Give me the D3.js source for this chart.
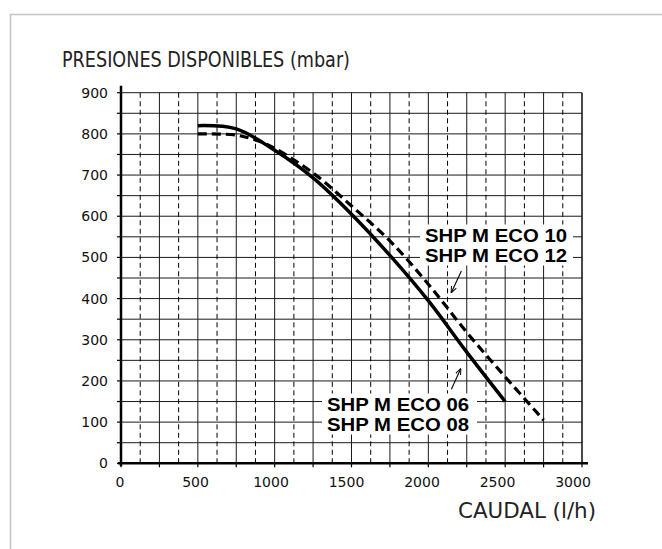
<!DOCTYPE html>
<html>
<head>
<meta charset="utf-8">
<script src="https://cdn.jsdelivr.net/npm/d3@7"></script>
<style>
  body { margin: 0; background: #fff; }
  svg { display: block; }
</style>
</head>
<body>
<div id="chart"></div>
<script>
// values
var caudal06 = [500, 750, 1000, 1250, 1500, 1750, 2000, 2250, 2500];
var presion06 = [820, 812, 760, 693, 605, 505, 395, 270, 150];
var caudal10 = [500, 750, 900, 1000, 1250, 1500, 1750, 2000, 2250, 2500, 2750];
var presion10 = [800, 797, 782, 765, 705, 625, 540, 435, 318, 210, 105];
var xTicks = [0, 500, 1000, 1500, 2000, 2500, 3000];
var yTicks = [0, 100, 200, 300, 400, 500, 600, 700, 800, 900];
var labels10 = ["SHP M ECO 10", "SHP M ECO 12"];
var labels06 = ["SHP M ECO 06", "SHP M ECO 08"];

var width = 662, height = 549;
var svg = d3.select("#chart").append("svg")
  .attr("width", width)
  .attr("height", height);

// grey frame
svg.append("rect")
  .attr("x", 10.5).attr("y", 14.5)
  .attr("width", 700).attr("height", 600)
  .attr("fill", "none")
  .attr("stroke", "#c4c4c4")
  .attr("stroke-width", 1.5);

var x = d3.scaleLinear().domain([0, 3000]).range([121, 582]);
var y = d3.scaleLinear().domain([0, 900]).range([463.3, 92.7]);
var xLab = d3.scaleLinear().domain([0, 3000]).range([120, 573]);

var grid = svg.append("g");

// horizontal grid every 50
grid.selectAll("line.h")
  .data(d3.range(50, 901, 50))
  .enter().append("line")
  .attr("class", "h")
  .attr("x1", x(0)).attr("x2", x(3000))
  .attr("y1", function(d){ return y(d); })
  .attr("y2", function(d){ return y(d); })
  .attr("stroke", "#1a1a1a")
  .attr("stroke-width", 1);

// solid verticals every 250
grid.selectAll("line.v")
  .data(d3.range(250, 3001, 250))
  .enter().append("line")
  .attr("class", "v")
  .attr("x1", function(d){ return x(d); })
  .attr("x2", function(d){ return x(d); })
  .attr("y1", y(0)).attr("y2", y(900))
  .attr("stroke", "#1a1a1a")
  .attr("stroke-width", function(d){ return d === 3000 ? 1.6 : 1; });

// dashed verticals in between
grid.selectAll("line.vd")
  .data(d3.range(125, 3000, 250))
  .enter().append("line")
  .attr("class", "vd")
  .attr("x1", function(d){ return x(d); })
  .attr("x2", function(d){ return x(d); })
  .attr("y1", y(0)).attr("y2", y(900))
  .attr("stroke", "#000")
  .attr("stroke-width", 1)
  .attr("stroke-dasharray", "5,3.5");

// axes
var axisG = svg.append("g");
axisG.append("line")
  .attr("x1", x(0)).attr("x2", x(0))
  .attr("y1", y(0) + 3).attr("y2", y(900) - 7)
  .attr("stroke", "#000").attr("stroke-width", 2.5);
axisG.append("line")
  .attr("x1", x(0) - 3).attr("x2", x(3000) + 6)
  .attr("y1", y(0)).attr("y2", y(0))
  .attr("stroke", "#000").attr("stroke-width", 2.5);

axisG.selectAll("line.yt")
  .data(d3.range(0, 901, 50))
  .enter().append("line")
  .attr("x1", x(0) - 4).attr("x2", x(0))
  .attr("y1", function(d){ return y(d); })
  .attr("y2", function(d){ return y(d); })
  .attr("stroke", "#000").attr("stroke-width", 1.2);

axisG.selectAll("line.xt")
  .data(d3.range(0, 3001, 250))
  .enter().append("line")
  .attr("x1", function(d){ return x(d); })
  .attr("x2", function(d){ return x(d); })
  .attr("y1", y(0)).attr("y2", y(0) + 4)
  .attr("stroke", "#000").attr("stroke-width", 1.2);

axisG.selectAll("text.yl")
  .data(yTicks)
  .enter().append("text")
  .attr("x", 108)
  .attr("y", function(d){ return y(d) + 5; })
  .attr("text-anchor", "end")
  .attr("font-family", "DejaVu Sans")
  .attr("font-size", 14)
  .attr("fill", "#111")
  .text(function(d){ return d; });

axisG.selectAll("text.xl")
  .data(xTicks)
  .enter().append("text")
  .attr("x", function(d){ return xLab(d); })
  .attr("y", 487)
  .attr("text-anchor", "middle")
  .attr("font-family", "DejaVu Sans")
  .attr("font-size", 14)
  .attr("fill", "#111")
  .text(function(d){ return d; });

// titles
svg.append("text")
  .attr("x", 62).attr("y", 67)
  .attr("font-family", "DejaVu Sans Condensed")
  .attr("font-size", 21.5)
  .attr("fill", "#222")
  .attr("textLength", 288)
  .attr("lengthAdjust", "spacingAndGlyphs")
  .text("PRESIONES DISPONIBLES (mbar)");

svg.append("text")
  .attr("x", 458).attr("y", 518)
  .attr("font-family", "DejaVu Sans Condensed")
  .attr("font-size", 21)
  .attr("fill", "#222")
  .attr("textLength", 138)
  .attr("lengthAdjust", "spacingAndGlyphs")
  .text("CAUDAL (l/h)");

// curves
var line = d3.line()
  .x(function(d){ return x(d[0]); })
  .y(function(d){ return y(d[1]); })
  .curve(d3.curveCatmullRom.alpha(0.5));

svg.append("path")
  .datum(d3.zip(caudal10, presion10))
  .attr("d", line)
  .attr("fill", "none")
  .attr("stroke", "#000")
  .attr("stroke-width", 3.2)
  .attr("stroke-dasharray", "9,5");

svg.append("path")
  .datum(d3.zip(caudal06, presion06))
  .attr("d", line)
  .attr("fill", "none")
  .attr("stroke", "#000")
  .attr("stroke-width", 3.5);

// labels with white boxes
function labelBlock(lines, x0, x1, base) {
  var g = svg.append("g");
  g.append("rect")
    .attr("x", x0).attr("y", base - 17)
    .attr("width", x1 - x0).attr("height", 41)
    .attr("fill", "#fff");
  g.selectAll("text")
    .data(lines)
    .enter().append("text")
    .attr("x", x0 + 5)
    .attr("y", function(d, i){ return base + i * 20; })
    .attr("font-family", "Liberation Sans, Arial, sans-serif")
    .attr("font-weight", "bold")
    .attr("font-size", 17.5)
    .attr("fill", "#000")
    .attr("textLength", 142)
    .attr("lengthAdjust", "spacingAndGlyphs")
    .text(function(d){ return d; });
}
labelBlock(labels10, 420, 573, 241.5);
labelBlock(labels06, 322, 477, 410.5);

// arrows
var defs = svg.append("defs");
defs.append("marker")
  .attr("id", "ah")
  .attr("viewBox", "0 0 10 10")
  .attr("refX", 9).attr("refY", 5)
  .attr("markerWidth", 6).attr("markerHeight", 6)
  .attr("orient", "auto")
  .append("path")
  .attr("d", "M0,1 L10,5 L0,9")
  .attr("fill", "none")
  .attr("stroke", "#000")
  .attr("stroke-width", 1.5);

var arrows = [
  { from: [2215, 467], to: [2150, 415] },
  { from: [2150, 180], to: [2210, 229] }
];
svg.selectAll("line.arrow")
  .data(arrows)
  .enter().append("line")
  .attr("x1", function(d){ return x(d.from[0]); })
  .attr("y1", function(d){ return y(d.from[1]); })
  .attr("x2", function(d){ return x(d.to[0]); })
  .attr("y2", function(d){ return y(d.to[1]); })
  .attr("stroke", "#000")
  .attr("stroke-width", 1.1)
  .attr("marker-end", "url(#ah)");
</script>
</body>
</html>
